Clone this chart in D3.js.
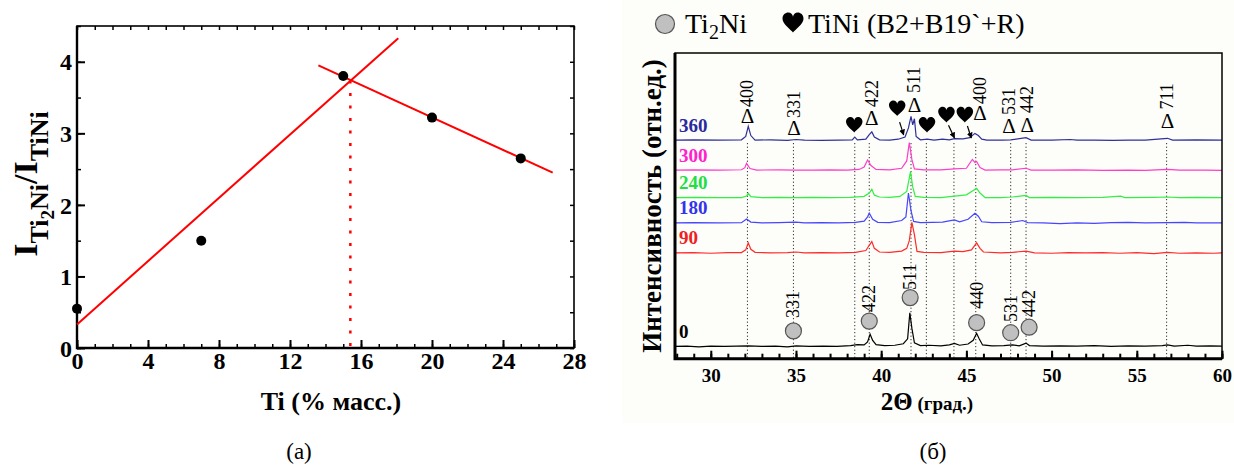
<!DOCTYPE html>
<html><head><meta charset="utf-8">
<script src="https://cdn.jsdelivr.net/npm/d3@7"></script>
<style>body{margin:0;background:#fff}svg{display:block}</style>
</head><body>
<script>
// ================= Panel (a) data =================
const tiMass = [0, 7, 15, 20, 25];
const ratio  = [0.55, 1.5, 3.8, 3.22, 2.65];
const fitRise = [[0, 0.33], [18.1, 4.33]];
const fitFall = [[13.6, 3.95], [26.8, 2.45]];
const cross = [[15.4, 3.74], [15.4, 0]];
const xTicksA = [0, 4, 8, 12, 16, 20, 24, 28];
const yTicksA = [0, 1, 2, 3, 4];

// ================= Panel (б) data =================
const anneal  = ["0", "90", "180", "240", "300", "360"];
const offsets = [4.0, 34.6, 44.4, 52.7, 61.7, 71.5];
const traceColors = ["#000000", "#ff2a2a", "#4646ff", "#33ee44", "#ff3ccc", "#30309a"];
const labelColors = ["#000000", "#ee2020", "#3333ee", "#22dd44", "#ff22cc", "#2a2aa0"];

const trace0 = [[27.9,0],[28.6,0.1],[29.3,-0.1],[30,0.1],[30.8,0],[31.5,0.1],[32.2,0.2],[33,0],[33.8,0.1],[34.5,-0.1],[35,0.2],[35.8,0],[36.6,0.1],[37.4,0],[38.2,0.3],[38.6,0.6],[39.0,0.5],[39.2,1.5],[39.35,4.0],[39.5,2.0],[39.7,0.6],[40.2,0.3],[40.8,0.4],[41.3,0.9],[41.55,2.5],[41.68,11],[41.8,6],[41.95,1.2],[42.3,0.3],[42.8,0.4],[43.5,0.2],[44.0,0.5],[44.3,1.0],[44.6,0.4],[45.1,0.8],[45.4,2.0],[45.6,4.3],[45.75,2.5],[45.95,0.5],[46.5,0.2],[47.2,0.3],[47.7,0.5],[48.1,0.2],[48.5,1.1],[48.7,0.3],[49.5,0.1],[50.5,0.2],[51.5,0.1],[52.5,0.3],[53.5,0],[54.5,0.2],[55.5,0.1],[56.5,0.3],[56.8,0.5],[57.2,0.1],[58,0.4],[58.5,0.1],[59.3,0.2],[60,0.1]];
const trace90 = [[27.9,0],[29,0.1],[30,-0.1],[31,0.1],[31.8,0.1],[32.05,1.0],[32.2,3.3],[32.35,1.2],[32.6,0.2],[33.5,0],[34.5,0.1],[35,0.3],[35.5,0],[36.5,0.1],[37.5,0],[38.5,0.2],[39.1,0.8],[39.3,2.5],[39.45,3.7],[39.6,1.5],[39.9,0.3],[40.5,0.2],[41.2,0.6],[41.5,1.5],[41.65,4],[41.8,10],[41.95,6],[42.1,0.5],[42.5,0.2],[43.5,0.1],[44.3,0.6],[44.8,0.4],[45.3,1.0],[45.6,3.3],[45.8,1.5],[46.0,0.3],[47,0],[47.7,0.2],[48.5,0.6],[49,0],[50,-0.1],[51,0.1],[52,0],[53,0.1],[54,-0.1],[55,0.1],[56,-0.2],[56.8,0.2],[57.5,-0.1],[58.5,0],[59.5,-0.1],[60,0]];
const trace180 = [[27.9,0],[29,0.1],[30.5,0],[31.8,0.1],[32.1,1.3],[32.35,0.3],[33,0],[34,0.1],[35,0.3],[35.5,0],[36.5,0.1],[37.5,0],[38.5,0.2],[39.0,0.6],[39.2,2.0],[39.3,3.2],[39.5,1.2],[39.8,0.2],[40.5,0.1],[41.2,0.8],[41.45,2.0],[41.6,9.8],[41.75,4],[41.9,0.5],[42.3,0.1],[43,0.2],[43.6,0.3],[44.3,1.0],[44.6,0.4],[45.1,1.2],[45.5,3.2],[45.7,2.2],[45.9,0.4],[46.5,0.1],[47.6,0.2],[48.3,0.8],[48.6,0.1],[49.5,0],[50.5,-0.2],[51.5,0],[52.5,-0.1],[53.5,0.1],[54.5,0.2],[55.5,0],[56.8,0.1],[57.8,0.2],[58.5,0],[60,0]];
const trace240 = [[27.9,0],[29,0.1],[30.5,0],[31.8,0],[32.1,0.5],[32.2,1.4],[32.35,0.3],[33,0],[34,0.1],[35,0],[36,0.1],[37,0],[38.2,0.1],[39.0,0.4],[39.3,1.5],[39.45,2.7],[39.6,0.8],[39.9,0.2],[40.5,0.1],[41.1,0.4],[41.5,2.0],[41.72,8.5],[41.85,3.5],[42.0,0.4],[42.5,0.1],[43.5,0],[44.3,0.5],[45.0,0.9],[45.4,2.3],[45.6,3.0],[45.8,1.5],[46.1,0],[47,0],[47.7,0.2],[48.5,0.7],[48.7,0],[50,0.1],[51.5,0],[53,0.1],[54.05,0.5],[54.3,0],[56,0.1],[56.8,0.2],[57.5,0],[58.5,0.1],[60,0]];
const trace300 = [[27.9,0],[29,0.1],[30.5,0],[31.8,0.1],[32.0,0.8],[32.1,2.2],[32.3,0.5],[32.7,0],[34,0.1],[35,0],[36,0],[37,0.1],[38,0],[38.7,0.2],[39.0,1.0],[39.2,3.3],[39.4,1.5],[39.7,0.2],[40.5,0.1],[41.2,0.6],[41.5,3.0],[41.65,9.0],[41.8,3.5],[41.95,0.4],[42.5,0.1],[43.5,0.1],[44.3,0.4],[45.0,0.6],[45.35,3.5],[45.5,2.5],[45.6,2.8],[45.8,0.8],[46.1,0],[47,0.1],[47.7,0.1],[48.5,0.6],[48.8,0],[50,0],[51.5,0.1],[53,-0.1],[54.5,0],[55.5,-0.1],[56.8,0.2],[57.5,0],[59,0],[60,-0.1]];
const trace360 = [[27.9,0],[29,0.1],[30.5,0],[31.8,0.1],[32.05,1.2],[32.2,4.5],[32.35,1.5],[32.6,0],[33.5,0.1],[34.5,-0.1],[35,0.2],[35.5,0],[36.5,-0.1],[37.5,0],[38.3,0.1],[38.45,1.0],[38.6,0.1],[39.1,0.3],[39.3,1.8],[39.45,2.7],[39.6,1.0],[39.9,0.1],[40.5,0],[41.0,0.3],[41.4,1.0],[41.6,4.0],[41.75,7.8],[41.85,5],[41.95,7],[42.05,1.2],[42.3,0.1],[42.7,0.3],[43.1,0],[43.6,0.3],[44.0,0.1],[44.3,0.5],[44.8,0.4],[45.2,0.8],[45.5,2.2],[45.7,1.5],[45.9,0.3],[46.2,0],[47.1,0],[47.6,0.1],[48.5,0.8],[48.8,0],[50,0],[51.1,0.2],[51.5,0],[52.5,0],[53.6,-0.1],[54.5,0],[55.5,0],[56.8,0.6],[57.1,0],[58.5,0.1],[60,0]];
const traces = [trace0, trace90, trace180, trace240, trace300, trace360];

// reference lines (2θ)
const refLines = [32.15, 34.85, 38.45, 39.3, 41.75, 42.65, 44.27, 45.55, 47.6, 48.5, 56.75];
// TiNi (Δ) reflections on the top pattern: 2θ, Δ baseline, label start (intensity units)
const deltaHkl   = ["400", "331", "422", "511", "400", "531", "442", "711"];
const deltaPos   = [32.15, 34.88, 39.45, 41.95, 45.8, 47.5, 48.57, 56.8];
const deltaY     = [77.1, 73.2, 76.4, 80.7, 78.1, 73.8, 74.1, 75.5];
const deltaLblY  = [82.3, 78.7, 82.3, 86.9, 83.3, 79.7, 80.4, 81.5];
// Ti2Ni (circle) reflections on the bottom pattern
const circHkl  = ["331", "422", "511", "440", "531", "442"];
const circPos  = [34.85, 39.3, 41.7, 45.6, 47.6, 48.68];
const circY    = [9.1, 12.3, 20.0, 11.8, 8.5, 10.3];
const circLblY = [13.3, 15.3, 22.5, 16.3, 12.0, 13.6];
// TiNi (B2+B19`+R) hearts and arrows
const heartPos = [38.42, 40.94, 42.69, 43.83, 44.91];
const heartY   = [76.4, 81.8, 76.4, 79.7, 79.7];
const arrows   = [[[41.08, 77.4], [41.32, 73.2]], [[43.95, 76.4], [44.3, 72.2]], [[45.06, 76.1], [45.29, 72.2]]];
const xTicksB = [30, 35, 40, 45, 50, 55, 60];

const W = 1234, H = 467;
const serif = "'Liberation Serif','Times New Roman',serif";
const svg = d3.select("body").append("svg").attr("width", W).attr("height", H)
  .style("font-family", serif);

// ================= Panel (a) =================
const xA = d3.scaleLinear([0, 28], [77, 574]);
const yA = d3.scaleLinear([0, 4.5], [348, 26]);
const gA = svg.append("g");

const minorAxes = [
  [d3.axisBottom(xA).tickValues(d3.range(0, 29, 1)).tickSize(-4), 348, 0],
  [d3.axisTop(xA).tickValues(d3.range(0, 29, 1)).tickSize(-4), 26, 0],
  [d3.axisLeft(yA).tickValues(d3.range(0, 4.51, 0.5)).tickSize(-4), 0, 77],
  [d3.axisRight(yA).tickValues(d3.range(0, 4.51, 0.5)).tickSize(-4), 0, 574]
];
minorAxes.forEach(([ax, ty, tx]) => {
  gA.append("g").attr("transform", `translate(${tx},${ty})`)
    .call(ax.tickFormat(""))
    .call(g => g.select(".domain").remove())
    .call(g => g.selectAll("line").attr("stroke", "#000").attr("stroke-width", 1.5));
});
gA.append("g").attr("transform", "translate(0,348)")
  .call(d3.axisBottom(xA).tickValues(xTicksA).tickSize(-8).tickPadding(4).tickFormat(d3.format("d")))
  .call(g => g.select(".domain").remove())
  .call(g => g.selectAll("line").attr("stroke", "#000").attr("stroke-width", 2))
  .call(g => g.selectAll("text").attr("y", 21).attr("dy", 0)
    .attr("font-family", serif).attr("font-size", 24).attr("font-weight", "bold").attr("fill", "#000"));
gA.append("g").attr("transform", "translate(77,0)")
  .call(d3.axisLeft(yA).tickValues(yTicksA).tickSize(-8).tickPadding(5).tickFormat(d3.format("d")))
  .call(g => g.select(".domain").remove())
  .call(g => g.selectAll("line").attr("stroke", "#000").attr("stroke-width", 2))
  .call(g => g.selectAll("text").attr("dy", "0.34em")
    .attr("font-family", serif).attr("font-size", 24).attr("font-weight", "bold").attr("fill", "#000"));
gA.append("rect").attr("x", xA(0)).attr("y", yA(4.5)).attr("width", xA(28) - xA(0)).attr("height", yA(0) - yA(4.5))
  .attr("fill", "none").attr("stroke", "#000").attr("stroke-width", 1.6);
gA.append("path").attr("d", `M${xA(0)},${yA(4.5)}V${yA(0)}H${xA(28)}`).attr("fill", "none").attr("stroke", "#000").attr("stroke-width", 2.4);

const lineA = d3.line().x(d => xA(d[0])).y(d => yA(d[1]));
gA.append("path").attr("d", lineA(fitRise)).attr("stroke", "#ff0000").attr("stroke-width", 2).attr("fill", "none");
gA.append("path").attr("d", lineA(fitFall)).attr("stroke", "#ff0000").attr("stroke-width", 2).attr("fill", "none");
gA.append("path").attr("d", lineA(cross)).attr("stroke", "#ff0000").attr("stroke-width", 2.5)
  .attr("stroke-dasharray", "3,9.5").attr("fill", "none");
gA.selectAll("circle.pt").data(tiMass).join("circle").attr("class", "pt")
  .attr("cx", d => xA(d)).attr("cy", (d, i) => yA(ratio[i])).attr("r", 5).attr("fill", "#000");

gA.append("text").attr("x", 331).attr("y", 410).attr("text-anchor", "middle")
  .attr("font-size", 26).attr("font-weight", "bold").text("Ti (% масс.)");
const yt = gA.append("text").attr("transform", "translate(37,184) rotate(-90)")
  .attr("text-anchor", "middle").attr("font-weight", "bold");
yt.append("tspan").attr("font-size", 34).text("I");
yt.append("tspan").attr("font-size", 26).attr("dy", 11).text("Ti");
yt.append("tspan").attr("font-size", 19).attr("dy", 6).text("2");
yt.append("tspan").attr("font-size", 26).attr("dy", -6).text("Ni");
yt.append("tspan").attr("font-size", 34).attr("dy", -11).text("/I");
yt.append("tspan").attr("font-size", 26).attr("dy", 11).text("TiNi");
gA.append("text").attr("x", 299).attr("y", 459).attr("text-anchor", "middle").attr("font-size", 23).text("(a)");

// ================= Panel (б) =================
const gB = svg.append("g");
gB.append("rect").attr("x", 622).attr("y", 0).attr("width", 612).attr("height", 423).attr("fill", "#fdfdf9");
const xB = d3.scaleLinear([27.9, 60], [675, 1222]);
const yB = d3.scaleLinear([0, 100], [358.7, 53]);

gB.selectAll("line.ref").data(refLines).join("line").attr("class", "ref")
  .attr("x1", d => xB(d)).attr("x2", d => xB(d)).attr("y1", yB(70.5)).attr("y2", yB(0))
  .attr("stroke", "#000").attr("stroke-width", 1).attr("stroke-dasharray", "1,2.5");

traces.forEach((tr, i) => {
  const ln = d3.line().x(d => xB(d[0])).y(d => yB(d[1] + offsets[i]));
  gB.append("path").attr("d", ln(tr)).attr("fill", "none")
    .attr("stroke", traceColors[i]).attr("stroke-width", 1.2);
  gB.append("text").attr("x", 679).attr("y", yB(offsets[i] + 2.8))
    .attr("font-size", 19).attr("font-weight", "bold").attr("fill", labelColors[i]).text(anneal[i]);
});

gB.append("g").attr("transform", "translate(0,358.7)")
  .call(d3.axisBottom(xB).tickValues(d3.range(28, 61, 1)).tickSize(-5).tickFormat(""))
  .call(g => g.select(".domain").remove())
  .call(g => g.selectAll("line").attr("stroke", "#000").attr("stroke-width", 2));
gB.append("g").attr("transform", "translate(0,358.7)")
  .call(d3.axisBottom(xB).tickValues(xTicksB).tickSize(-8).tickFormat(d3.format("d")))
  .call(g => g.select(".domain").remove())
  .call(g => g.selectAll("line").attr("stroke", "#000").attr("stroke-width", 2))
  .call(g => g.selectAll("text").attr("y", 23).attr("dy", 0)
    .attr("font-family", serif).attr("font-size", 19).attr("font-weight", "bold").attr("fill", "#000"));
gB.append("rect").attr("x", xB(27.9)).attr("y", yB(100)).attr("width", xB(60) - xB(27.9)).attr("height", yB(0) - yB(100))
  .attr("fill", "none").attr("stroke", "#000").attr("stroke-width", 1.5);
gB.append("path").attr("d", `M${xB(27.9)},${yB(100)}V${yB(0)}H${xB(60)}`).attr("fill", "none").attr("stroke", "#000").attr("stroke-width", 3);

deltaHkl.forEach((h, i) => {
  gB.append("text").attr("x", xB(deltaPos[i])).attr("y", yB(deltaY[i])).attr("text-anchor", "middle")
    .attr("font-size", 21).text("Δ");
  gB.append("text").attr("transform", `translate(${xB(deltaPos[i]) + 6},${yB(deltaLblY[i])}) rotate(-90)`)
    .attr("font-size", 18).text(h);
});
gB.selectAll("circle.ti2").data(circPos).join("circle").attr("class", "ti2")
  .attr("cx", d => xB(d)).attr("cy", (d, i) => yB(circY[i])).attr("r", 8)
  .attr("fill", "#c0c0c0").attr("stroke", "#555").attr("stroke-width", 1.2);
circHkl.forEach((h, i) => {
  gB.append("text").attr("transform", `translate(${xB(circPos[i]) + 6},${yB(circLblY[i])}) rotate(-90)`)
    .attr("font-size", 18).text(h);
});
const heartD = "M0,0.45C-0.1,0.32 -0.5,0.06 -0.5,-0.2C-0.5,-0.4 -0.36,-0.5 -0.23,-0.5C-0.1,-0.5 -0.02,-0.42 0,-0.3C0.02,-0.42 0.1,-0.5 0.23,-0.5C0.36,-0.5 0.5,-0.4 0.5,-0.2C0.5,0.06 0.1,0.32 0,0.45Z";
gB.selectAll("path.heart").data(heartPos).join("path").attr("class", "heart")
  .attr("d", heartD).attr("fill", "#000")
  .attr("transform", (d, i) => `translate(${xB(d)},${yB(heartY[i])}) scale(16.5)`);
svg.append("defs").append("marker").attr("id", "ah").attr("viewBox", "0 0 10 10")
  .attr("refX", 9).attr("refY", 5).attr("markerWidth", 5).attr("markerHeight", 5).attr("orient", "auto")
  .append("path").attr("d", "M0,0L10,5L0,10Z").attr("fill", "#000");
arrows.forEach(a => {
  gB.append("line").attr("x1", xB(a[0][0])).attr("y1", yB(a[0][1])).attr("x2", xB(a[1][0])).attr("y2", yB(a[1][1]))
    .attr("stroke", "#000").attr("stroke-width", 1.2).attr("marker-end", "url(#ah)");
});

gB.append("circle").attr("cx", 665).attr("cy", 24).attr("r", 9.5).attr("fill", "#c0c0c0").attr("stroke", "#555").attr("stroke-width", 1.2);
const lg1 = gB.append("text").attr("x", 685).attr("y", 33).attr("font-size", 28);
lg1.append("tspan").text("Ti");
lg1.append("tspan").attr("font-size", 20).attr("dy", 6).text("2");
lg1.append("tspan").attr("dy", -6).text("Ni");
gB.append("path").attr("d", heartD).attr("fill", "#000").attr("transform", "translate(793,23) scale(21)");
gB.append("text").attr("x", 808).attr("y", 33).attr("font-size", 28).text("TiNi (B2+B19`+R)");

const xt = gB.append("text").attr("x", 927).attr("y", 410).attr("text-anchor", "middle").attr("font-weight", "bold");
xt.append("tspan").attr("font-size", 25).text("2Θ");
xt.append("tspan").attr("font-size", 19).text(" (град.)");
gB.append("text").attr("transform", "translate(661,206) rotate(-90)").attr("text-anchor", "middle")
  .attr("font-size", 27).attr("font-weight", "bold").text("Интенсивность (отн.ед.)");
gB.append("text").attr("x", 933).attr("y", 459).attr("text-anchor", "middle").attr("font-size", 23).text("(б)");
</script>
</body></html>
